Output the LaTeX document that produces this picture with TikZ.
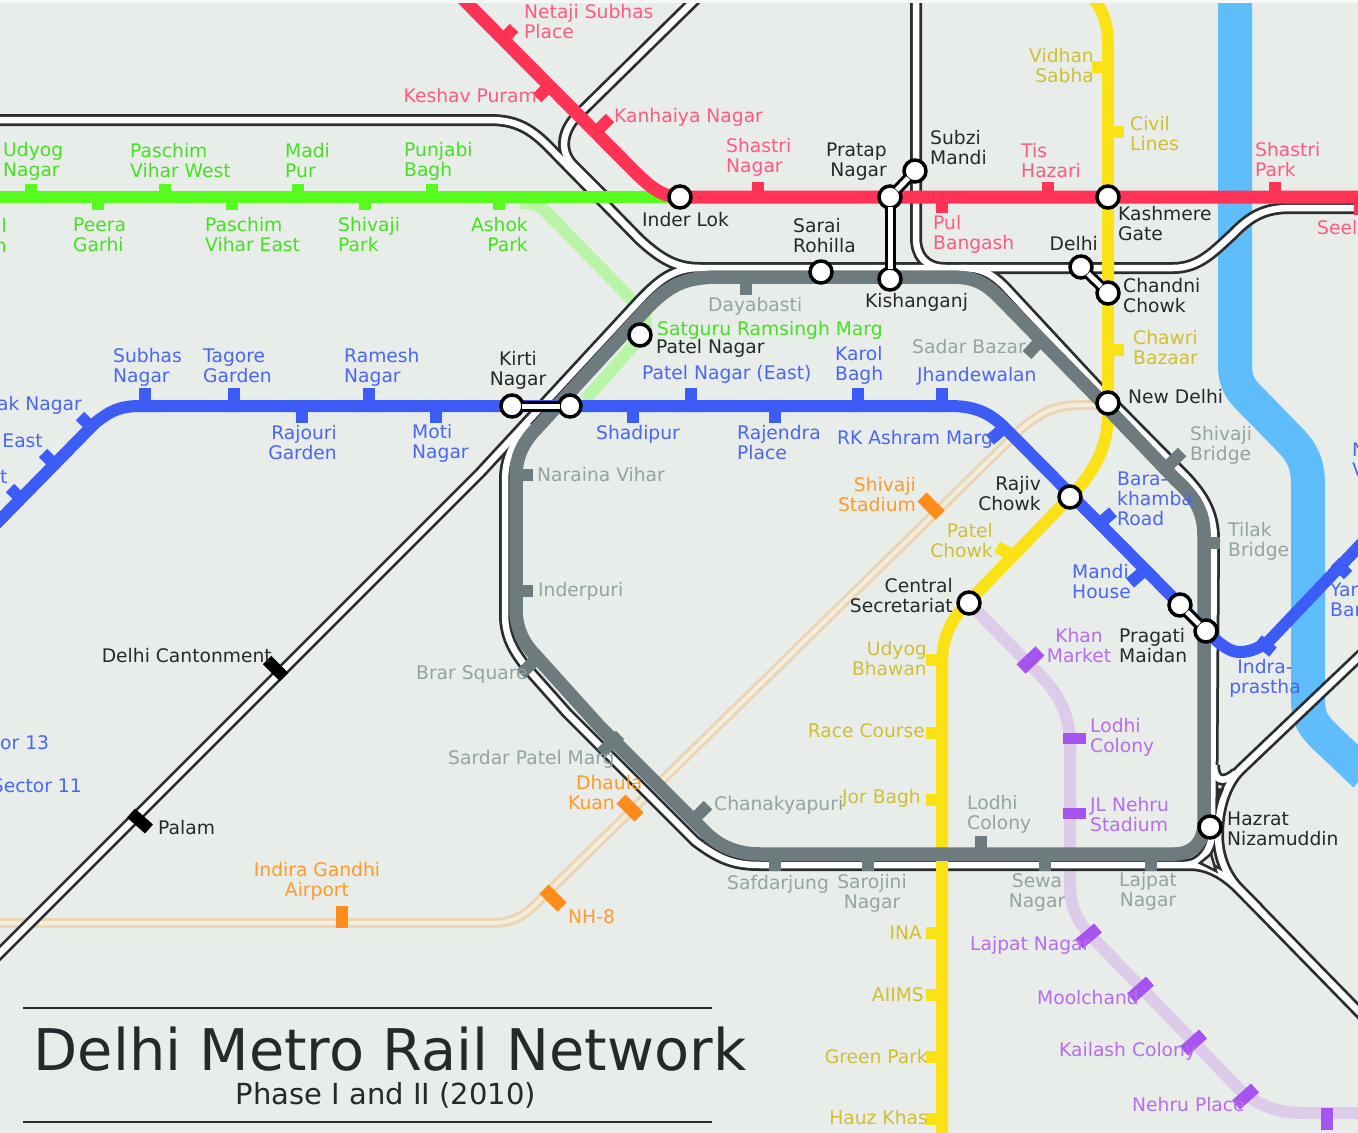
\documentclass[tikz,border=0pt]{standalone}
\usepackage{fontspec}
\setmainfont{DejaVu Sans}
\definecolor{bgmap}{HTML}{E8EDEA}
\definecolor{greenln}{HTML}{58FB1E}
\definecolor{lightgreenln}{HTML}{B9F5A6}
\definecolor{redln}{HTML}{FF3355}
\definecolor{blueln}{HTML}{3D5BF5}
\definecolor{yellowln}{HTML}{FBE216}
\definecolor{greyln}{HTML}{6E7B7E}
\definecolor{purpleln}{HTML}{DCCCEA}
\definecolor{purpletick}{HTML}{A653F0}
\definecolor{orangetick}{HTML}{FF8C1A}
\definecolor{tanln}{HTML}{EAD6B4}
\definecolor{tanmid}{HTML}{F5EDDC}
\definecolor{riverln}{HTML}{5EBDFA}
\definecolor{railblack}{HTML}{2A2E30}
\definecolor{redtxt}{HTML}{FF5A85}
\definecolor{greentxt}{HTML}{45E020}
\definecolor{bluetxt}{HTML}{4A66F5}
\definecolor{yellowtxt}{HTML}{D2BE35}
\definecolor{greytxt}{HTML}{94A3A3}
\definecolor{orangetxt}{HTML}{FF9A28}
\definecolor{purpletxt}{HTML}{B86CEE}
\definecolor{blacktxt}{HTML}{25292B}
\tikzset{
  lbl/.style={inner sep=0pt,anchor=west,align=left,font=\fontsize{18.7}{20}\selectfont},
  rt/.style={anchor=east,align=right},
  ctr/.style={anchor=center,align=center},
  stn/.style={shape=circle,draw=black,line width=3.5pt,fill=white,minimum size=22pt,inner sep=0pt},
  link/.style={draw=black,line width=3pt,double=white,double distance=5pt,shorten <=-3pt,shorten >=-3pt},
  tick/.style={line width=12pt},
  bigtick/.style={line width=13pt}
}
\begin{document}
\begin{tikzpicture}[x=1pt,y=-1pt]
\useasboundingbox (0,0) rectangle (1358,1133);
\clip (0,0) rectangle (1358,1133);
\fill[bgmap] (0,0) rectangle (1358,1133);

% river
\draw[riverln,line width=34pt] (1235,-5) -- (1235,365) .. controls (1235,385) and (1243,392) .. (1253,402) -- (1290,440) .. controls (1303,453) and (1308,465) .. (1308,485) -- (1308,700) .. controls (1308,720) and (1315,727) .. (1325,737) -- (1365,775);

% faint lines
\draw[draw=tanln,line width=3pt,double=tanmid,double distance=4pt] (-5,923) -- (490,923) .. controls (515,923) and (525,915) .. (540,900) -- (1020,430) .. controls (1045,408) and (1060,405) .. (1085,405) -- (1108,405);
\draw[lightgreenln,line width=12pt] (520,203) .. controls (535,203) and (540,206) .. (550,216) -- (640,308) .. controls (648,318) and (648,328) .. (640,338) -- (585,400);
\draw[purpleln,line width=12pt] (969,603) -- (1030,665) .. controls (1055,688) and (1070,710) .. (1070,745) -- (1070,885) .. controls (1070,910) and (1080,925) .. (1095,940) -- (1240,1090) .. controls (1262,1108) and (1280,1113) .. (1305,1113) -- (1365,1113);

% rails, black first then white so that they merge
\foreach \c/\w in {railblack/12pt,white/6.5pt}{
  \draw[\c,line width=\w] (-5,120) -- (490,120) .. controls (515,120) and (530,128) .. (548,146) -- (640,240) .. controls (660,258) and (675,268) .. (700,268) -- (1173,268) .. controls (1200,268) and (1215,250) .. (1232,235) .. controls (1250,216) and (1265,208) .. (1290,208) -- (1355,208);
  \draw[\c,line width=\w] (700,-5) -- (580,113) .. controls (563,128) and (558,150) .. (573,165) -- (606,198);
  \draw[\c,line width=\w] (-5,958) -- (480,473) -- (640,300) .. controls (660,279) and (675,268) .. (700,268);
  \draw[\c,line width=\w] (916,-5) -- (916,238) .. controls (916,255) and (925,268) .. (945,268);
  \draw[\c,line width=\w] (530,424) .. controls (512,442) and (505,460) .. (505,480) -- (505,615) .. controls (505,640) and (517,655) .. (527,668) -- (567,713) -- (695,841) .. controls (720,860) and (735,865) .. (760,865) -- (1190,865) .. controls (1208,865) and (1224,874) .. (1240,890) -- (1258,908);
  \draw[\c,line width=\w] (960,268) .. controls (980,268) and (990,272) .. (1005,287) -- (1110,400) -- (1185,476) .. controls (1205,497) and (1214,515) .. (1214,540) -- (1212,832) .. controls (1212,850) and (1200,865) .. (1185,865);
  \draw[\c,line width=\w] (1214,765) .. controls (1214,780) and (1222,785) .. (1236,773);
  \draw[\c,line width=\w] (1365,651) -- (1240,770) .. controls (1225,785) and (1218,810) .. (1218,835) .. controls (1218,855) and (1225,875) .. (1240,890) -- (1365,1018);
}
\draw[railblack,line width=2.5pt,fill=bgmap] (1200,863) -- (1211,854) -- (1216,871) -- cycle;
\fill[railblack] (1217,788) -- (1224,789) -- (1218,803) -- cycle;

% metro lines
\draw[yellowln,line width=12pt] (1090,-5) .. controls (1102,8) and (1108,22) .. (1108,45) -- (1108,415) .. controls (1108,445) and (1095,472) .. (1070,497) -- (975,595) .. controls (955,615) and (942,630) .. (942,665) -- (942,1140);
\draw[greyln,line width=13.5pt] (720,277) -- (950,277) .. controls (975,277) and (985,283) .. (1000,298) -- (1095,395) -- (1175,479) .. controls (1195,497) and (1204,512) .. (1204,535) -- (1204,822) .. controls (1204,845) and (1190,854) .. (1175,854) -- (760,854) .. controls (735,854) and (718,845) .. (705,832) -- (600,727) -- (535,655) .. controls (525,645) and (516,630) .. (516,610) -- (516,475) .. controls (516,455) and (525,440) .. (537,428) -- (648,307) .. controls (670,285) and (685,277) .. (720,277);
\draw[greenln,line width=12pt] (-5,197) -- (680,197);
\draw[redln,line width=13pt] (463,-1) -- (633,170) .. controls (650,187) and (662,197) .. (680,197) -- (1365,197);
\draw[blueln,line width=12pt] (-5,525) -- (95,423) .. controls (110,411) and (120,406) .. (140,406) -- (950,406) .. controls (975,406) and (990,413) .. (1005,428) -- (1207,632) .. controls (1222,646) and (1230,652) .. (1240,652) .. controls (1250,652) and (1260,648) .. (1270,640) -- (1365,540);

% station ticks
\foreach \x in {31,165,298,432} \draw[greenln,tick] (\x,197) -- (\x,184);
\foreach \x in {98,232,365,499} \draw[greenln,tick] (\x,197) -- (\x,210);
\foreach \x in {758,1048,1275} \draw[redln,tick] (\x,197) -- (\x,182);
\draw[redln,tick] (942,197) -- (942,213);
\draw[redln,line width=5pt] (1356,197) -- (1356,215);
\draw[redln,tick] (500,43) -- (514,28);
\draw[redln,tick] (550,85) -- (537,98);
\draw[redln,tick] (595,133) -- (610,118);
\foreach \x in {145,234,369,691,858,942} \draw[blueln,tick] (\x,406) -- (\x,388);
\foreach \x in {302,436,633,775} \draw[blueln,tick] (\x,406) -- (\x,423);
\draw[blueln,tick] (92,428) -- (80,416);
\draw[blueln,tick] (55,465) -- (43,453);
\draw[blueln,tick] (22,500) -- (10,488);
\draw[blueln,tick] (1004,428) -- (990,440);
\draw[blueln,tick] (1098,525) -- (1113,512);
\draw[blueln,tick] (1145,570) -- (1130,583);
\draw[blueln,tick] (1258,640) -- (1273,652);
\draw[blueln,tick] (1335,562) -- (1348,575);
\foreach \y in {67,132,350} \draw[yellowln,tick] (1108,\y) -- ({\y==67 ? 1092 : 1124},\y);
\draw[yellowln,tick] (1012,555) -- (997,547);
\foreach \y in {660,733,800,933,995,1057,1119} \draw[yellowln,tick] (942,\y) -- (926,\y);
\draw[greyln,tick] (746,277) -- (746,295);
\draw[greyln,tick] (981,854) -- (981,836);
\foreach \x in {775,868,1045,1151} \draw[greyln,tick] (\x,854) -- (\x,871);
\draw[greyln,tick] (516,475) -- (533,475);
\draw[greyln,tick] (516,591) -- (533,591);
\draw[greyln,tick] (1040,341) -- (1027,355);
\draw[greyln,tick] (1163,471) -- (1182,452);
\draw[greyln,tick] (1204,543) -- (1220,543);
\draw[greyln,tick] (535,660) -- (521,674);
\draw[greyln,tick] (620,735) -- (601,753);
\draw[greyln,tick] (693,820) -- (708,805);
\draw[black,tick] (267,660) -- (284,677);
\draw[black,tick] (131,813) -- (149,829);
\draw[orangetick,bigtick] (922,497) -- (940,515);
\draw[orangetick,bigtick] (621,799) -- (639,817);
\draw[orangetick,bigtick] (544,889) -- (562,907);
\draw[orangetick,line width=12pt] (342,906) -- (342,928);
\draw[purpletick,bigtick] (1021,669) -- (1040,651);
\draw[purpletick,line width=11pt] (1063,738) -- (1086,738);
\draw[purpletick,line width=11pt] (1063,813) -- (1086,813);
\draw[purpletick,tick] (1079,944) -- (1098,928);
\draw[purpletick,tick] (1131,998) -- (1150,981);
\draw[purpletick,tick] (1184,1051) -- (1203,1034);
\draw[purpletick,tick] (1236,1105) -- (1255,1088);
\draw[purpletick,tick] (1327,1108) -- (1327,1130);

% interchanges
\node[stn] (inderlok) at (680,197) {};
\node[stn] (pratap) at (890,197) {};
\node[stn] (subzi) at (915,171) {};
\node[stn] (kashmere) at (1108,197) {};
\node[stn] (sarai) at (821,272) {};
\node[stn] (kishanganj) at (890,279) {};
\node[stn] (delhi) at (1081,267) {};
\node[stn] (chandni) at (1108,293) {};
\node[stn] (newdelhi) at (1108,403) {};
\node[stn] (patel) at (640,335) {};
\node[stn] (kirti) at (512,406) {};
\node[stn] (kirtitwo) at (570,406) {};
\node[stn] (rajiv) at (1070,497) {};
\node[stn] (central) at (969,603) {};
\node[stn] (pragati) at (1180,605) {};
\node[stn] (pragatitwo) at (1206,631) {};
\node[stn] (hazrat) at (1210,827) {};
\path[link] (pratap) -- (subzi);
\path[link] (pratap) -- (kishanganj);
\path[link] (delhi) -- (chandni);
\path[link] (kirti) -- (kirtitwo);
\path[link] (pragati) -- (pragatitwo);

% green line labels
\node[lbl,text=greentxt] (udyognagar) at (3,161) {Udyog\\Nagar};
\node[lbl,text=greentxt] (vihwest) at (130,161) {Paschim\\Vihar West};
\node[lbl,text=greentxt] (madipur) at (285,161) {Madi\\Pur};
\node[lbl,text=greentxt] (punjabi) at (404,161) {Punjabi\\Bagh};
\node[lbl,text=greentxt] (peera) at (73,235) {Peera\\Garhi};
\node[lbl,text=greentxt] (viheast) at (205,235) {Paschim\\Vihar East};
\node[lbl,text=greentxt] (shivpark) at (338,235) {Shivaji\\Park};
\node[lbl,rt,text=greentxt] (ashok) at (528,235) {Ashok\\Park};
\node[lbl,rt,text=greentxt] (cutgreen) at (7,235) {l\\n};
\node[lbl,text=greentxt] (satguru) at (657,330) {Satguru Ramsingh Marg};

% red line labels
\node[lbl,text=redtxt] (netaji) at (524,22) {Netaji Subhas\\Place};
\node[lbl,rt,text=redtxt] (keshav) at (537,96) {Keshav Puram};
\node[lbl,text=redtxt] (kanhaiya) at (614,117) {Kanhaiya Nagar};
\node[lbl,text=redtxt] (shastrin) at (726,157) {Shastri\\Nagar};
\node[lbl,text=redtxt] (tis) at (1021,161) {Tis\\Hazari};
\node[lbl,text=redtxt] (shastrip) at (1255,160) {Shastri\\Park};
\node[lbl,text=redtxt] (pul) at (933,234) {Pul\\Bangash};
\node[lbl,text=redtxt] (seel) at (1317,228) {Seel};

% interchange labels
\node[lbl,text=blacktxt] (tinder) at (642,220) {Inder Lok};
\node[lbl,rt,text=blacktxt] (tpratap) at (887,162) {Pratap\\Nagar};
\node[lbl,text=blacktxt] (tsubzi) at (930,148) {Subzi\\Mandi};
\node[lbl,text=blacktxt] (tsarai) at (793,236) {Sarai\\Rohilla};
\node[lbl,text=blacktxt] (tkishan) at (865,302) {Kishanganj};
\node[lbl,text=blacktxt] (tkash) at (1118,224) {Kashmere\\Gate};
\node[lbl,rt,text=blacktxt] (tdelhi) at (1098,244) {Delhi};
\node[lbl,text=blacktxt] (tchandni) at (1123,296) {Chandni\\Chowk};
\node[lbl,text=blacktxt] (tnew) at (1128,397) {New Delhi};
\node[lbl,text=blacktxt] (tpatel) at (656,348) {Patel Nagar};
\node[lbl,ctr,text=blacktxt] (tkirti) at (518,370) {Kirti\\Nagar};
\node[lbl,rt,text=blacktxt] (trajiv) at (1041,494) {Rajiv\\Chowk};
\node[lbl,rt,text=blacktxt] (tcentral) at (953,596) {Central\\Secretariat};
\node[lbl,text=blacktxt] (tpragati) at (1119,646) {Pragati\\Maidan};
\node[lbl,text=blacktxt] (thazrat) at (1227,829) {Hazrat\\Nizamuddin};
\node[lbl,rt,text=blacktxt] (tcantt) at (272,656) {Delhi Cantonment};
\node[lbl,text=blacktxt] (tpalam) at (158,828) {Palam};

% ring labels
\node[lbl,text=greytxt] (daya) at (708,306) {Dayabasti};
\node[lbl,text=greytxt] (sadar) at (912,347) {Sadar Bazar};
\node[lbl,text=greytxt] (shivbridge) at (1190,445) {Shivaji\\Bridge};
\node[lbl,text=greytxt] (tilak) at (1228,541) {Tilak\\Bridge};
\node[lbl,text=greytxt] (naraina) at (537,475) {Naraina Vihar};
\node[lbl,text=greytxt] (inderpuri) at (538,591) {Inderpuri};
\node[lbl,text=greytxt] (brar) at (416,674) {Brar Square};
\node[lbl,text=greytxt] (sardar) at (448,759) {Sardar Patel Marg};
\node[lbl,text=greytxt] (chanakya) at (714,805) {Chanakyapuri};
\node[lbl,text=greytxt] (safdar) at (727,884) {Safdarjung};
\node[lbl,ctr,text=greytxt] (sarojini) at (872,893) {Sarojini\\Nagar};
\node[lbl,text=greytxt] (lodhig) at (967,814) {Lodhi\\Colony};
\node[lbl,ctr,text=greytxt] (sewa) at (1037,892) {Sewa\\Nagar};
\node[lbl,ctr,text=greytxt] (lajpatg) at (1148,891) {Lajpat\\Nagar};

% blue line labels
\node[lbl,text=bluetxt] (subhas) at (113,367) {Subhas\\Nagar};
\node[lbl,text=bluetxt] (tagore) at (203,366) {Tagore\\Garden};
\node[lbl,text=bluetxt] (ramesh) at (344,367) {Ramesh\\Nagar};
\node[lbl,rt,text=bluetxt] (rajouri) at (337,443) {Rajouri\\Garden};
\node[lbl,text=bluetxt] (moti) at (412,443) {Moti\\Nagar};
\node[lbl,text=bluetxt] (patele) at (642,374) {Patel Nagar (East)};
\node[lbl,text=bluetxt] (karol) at (835,365) {Karol\\Bagh};
\node[lbl,text=bluetxt] (jhande) at (917,376) {Jhandewalan};
\node[lbl,text=bluetxt] (shadipur) at (596,434) {Shadipur};
\node[lbl,text=bluetxt] (rajendra) at (737,443) {Rajendra\\Place};
\node[lbl,text=bluetxt] (rkashram) at (837,439) {RK Ashram Marg};
\node[lbl,text=bluetxt] (bara) at (1117,499) {Bara-\\khamba\\Road};
\node[lbl,text=bluetxt] (mandi) at (1072,582) {Mandi\\House};
\node[lbl,ctr,text=bluetxt] (indra) at (1265,678) {Indra-\\prastha};
\node[lbl,rt,text=bluetxt] (aknagar) at (82,405) {ak Nagar};
\node[lbl,rt,text=bluetxt] (cuteast) at (43,441) {East};
\node[lbl,text=bluetxt] (cutt) at (0,477) {t};
\node[lbl,text=bluetxt] (sec13) at (0,743) {or 13};
\node[lbl,rt,text=bluetxt] (sec11) at (82,786) {Sector 11};
\node[lbl,text=bluetxt] (yan) at (1330,600) {Yan\\Bar};
\node[lbl,text=bluetxt] (cutn) at (1352,460) {N\\V};

% yellow line labels
\node[lbl,rt,text=yellowtxt] (vidyalaya) at (1205,-7) {Vidyalaya};
\node[lbl,rt,text=yellowtxt] (vidhan) at (1094,66) {Vidhan\\Sabha};
\node[lbl,text=yellowtxt] (civil) at (1130,134) {Civil\\Lines};
\node[lbl,text=yellowtxt] (chawri) at (1133,348) {Chawri\\Bazaar};
\node[lbl,rt,text=yellowtxt] (patelc) at (993,541) {Patel\\Chowk};
\node[lbl,rt,text=yellowtxt] (udyogb) at (927,659) {Udyog\\Bhawan};
\node[lbl,rt,text=yellowtxt] (race) at (925,731) {Race Course};
\node[lbl,rt,text=yellowtxt] (jorbagh) at (921,798) {Jor Bagh};
\node[lbl,rt,text=yellowtxt] (ina) at (922,933) {INA};
\node[lbl,rt,text=yellowtxt] (aiims) at (924,995) {AIIMS};
\node[lbl,rt,text=yellowtxt] (greenpark) at (928,1057) {Green Park};
\node[lbl,rt,text=yellowtxt] (hauz) at (928,1118) {Hauz Khas};

% airport line labels
\node[lbl,rt,text=orangetxt] (shivstad) at (916,495) {Shivaji\\Stadium};
\node[lbl,text=orangetxt] (dhaula) at (568,793) {\hspace{8pt}Dhaula\\Kuan};
\node[lbl,ctr,text=orangetxt] (igi) at (317,881) {Indira Gandhi\\Airport};
\node[lbl,text=orangetxt] (nheight) at (568,917) {NH-8};

% violet line labels
\node[lbl,ctr,text=purpletxt] (khan) at (1079,646) {Khan\\Market};
\node[lbl,text=purpletxt] (lodhip) at (1090,737) {Lodhi\\Colony};
\node[lbl,text=purpletxt] (jlnehru) at (1090,815) {JL Nehru\\Stadium};
\node[lbl,text=purpletxt] (lajpatp) at (970,945) {Lajpat Nagar};
\node[lbl,text=purpletxt] (moolchand) at (1037,998) {Moolchand};
\node[lbl,text=purpletxt] (kailash) at (1059,1051) {Kailash Colony};
\node[lbl,text=purpletxt] (nehru) at (1132,1105) {Nehru Place};

% title
\node[inner sep=0pt,font=\fontsize{57.4}{60}\selectfont,text=blacktxt] (title) at (390,1049) {Delhi Metro Rail Network};
\node[inner sep=0pt,font=\fontsize{29}{30}\selectfont,text=blacktxt] (subtitle) at (386,1095) {Phase I and II (2010)};
\coordinate (ruleaw) at (23,1008);
\coordinate (ruleae) at (712,1008);
\coordinate (rulebw) at (23,1122);
\coordinate (rulebe) at (712,1122);
\draw[railblack,line width=2pt] (ruleaw) -- (ruleae);
\draw[railblack,line width=2pt] (rulebw) -- (rulebe);

% pale strip along the top edge
\fill[white!60!bgmap] (0,0) rectangle (1358,3);
\end{tikzpicture}
\end{document}
